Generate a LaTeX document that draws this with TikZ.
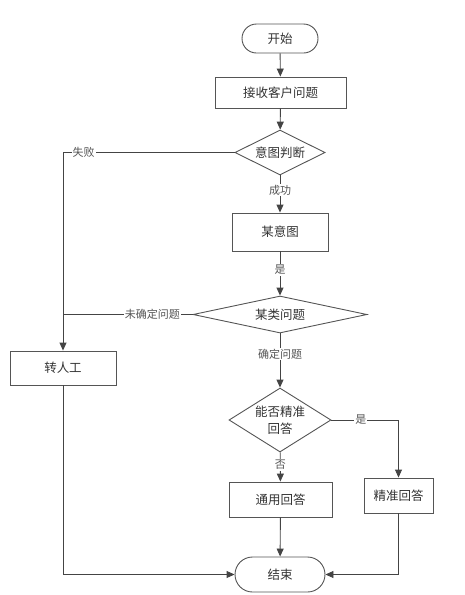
\documentclass[tikz,border=0pt]{standalone}
\usepackage{fontspec}
\newfontfamily\cjk{Noto Sans CJK SC}
\usetikzlibrary{shapes.geometric,arrows.meta}
\definecolor{linec}{HTML}{444444}
\definecolor{boxc}{HTML}{555555}
\definecolor{textc}{HTML}{333333}
\definecolor{lblc}{HTML}{555555}
\tikzset{
  base/.style={draw=boxc, line width=0.9pt, text=textc, inner sep=0pt,
    font=\cjk\fontsize{12.5}{17}\selectfont, align=center},
  proc/.style={base, rectangle},
  term/.style={base, rectangle, rounded corners=#1},
  dec/.style={base, diamond},
  conn/.style={draw=linec, line width=0.9pt},
  arr/.style={conn, -{Triangle[length=8pt,width=7pt]}},
  lbl/.style={fill=white, text=lblc, inner sep=1pt, font=\cjk\fontsize{11}{13}\selectfont}
}
\begin{document}
\begin{tikzpicture}[x=1pt,y=-1pt]
\useasboundingbox (0,0) rectangle (464,595);
\node[term=14.5pt, minimum width=76pt, minimum height=29pt] (start) at (280,38.5) {开始};
\node[proc, minimum width=131pt, minimum height=31pt] (recv) at (280.5,92.5) {接收客户问题};
\node[dec, minimum width=90pt, minimum height=45pt, aspect=2] (intent) at (280,152.5) {意图判断};
\node[proc, minimum width=96pt, minimum height=38pt] (mou) at (280,232) {某意图};
\node[dec, minimum width=174pt, minimum height=37pt, aspect=4.7] (cls) at (280,314.5) {某类问题};
\node[proc, minimum width=106pt, minimum height=34pt] (human) at (63,368) {转人工};
\node[dec, minimum width=102pt, minimum height=64pt, aspect=1.6] (can) at (280,420) {能否精准\\回答};
\node[proc, minimum width=103pt, minimum height=35pt] (gen) at (280.5,499.5) {通用回答};
\node[proc, minimum width=69pt, minimum height=35pt] (prec) at (398.5,495.5) {精准回答};
\node[term=17.5pt, minimum width=90pt, minimum height=35pt] (end) at (280,574.5) {结束};
\coordinate (merge) at (63,314.5);

\draw[arr] (start) -- (recv);
\draw[arr] (recv) -- (intent);
\draw[arr] (intent) -- node[lbl, pos=0.39] {成功} (mou);
\draw[arr] (intent.west) -| node[lbl, pos=0.44] {失败} (human.north);
\draw[arr] (mou) -- node[lbl, pos=0.42] {是} (cls);
\draw[conn] (cls.west) -- node[lbl, pos=0.31] {未确定问题} (merge);
\draw[arr] (cls) -- node[lbl, pos=0.38] {确定问题} (can);
\draw[arr] (can.east) -| node[lbl, pos=0.22] {是} (prec.north);
\draw[arr] (can) -- node[lbl, pos=0.43] {否} (gen);
\draw[arr] (gen) -- (end);
\draw[arr] (human.south) |- (end.west);
\draw[arr] (prec.south) |- (end.east);
\end{tikzpicture}
\end{document}
